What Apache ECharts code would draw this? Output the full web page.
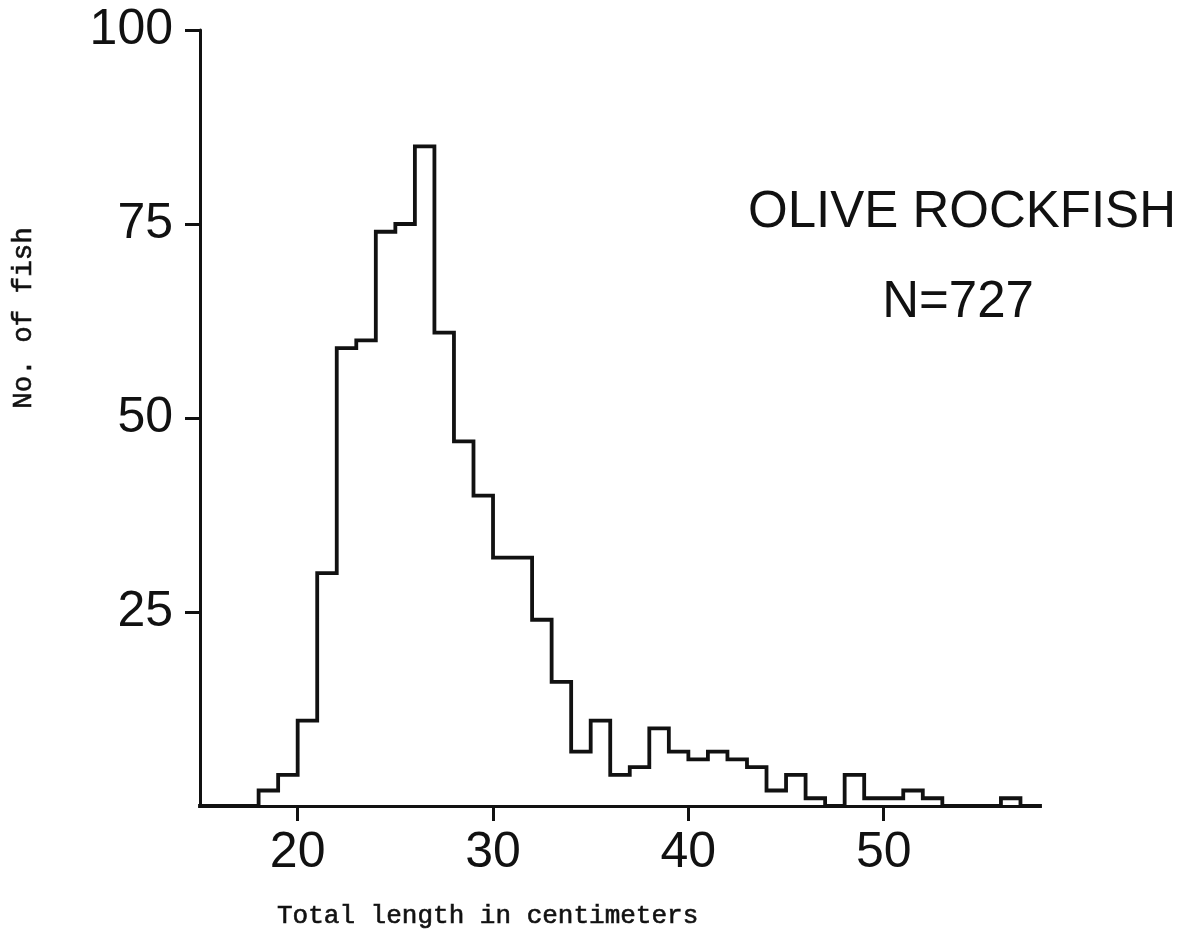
<!DOCTYPE html>
<html><head><meta charset="utf-8">
<script src="https://cdn.jsdelivr.net/npm/echarts@6/dist/echarts.min.js"></script>
<style>html,body{margin:0;padding:0;background:#fff}#chart{width:1191px;height:937px}</style>
</head><body><div id="chart"></div>
<script>
// Histogram bins (lower edge of each 1-cm class) and counts
const lengthCm = [18,19,20,21,22,23,24,25,26,27,28,29,30,31,32,33,34,35,36,37,38,39,40,41,42,43,44,45,46,47,48,49,50,51,52,53,54,55,56];
const fishCount = [2,4,11,30,59,60,74,75,85,61,47,40,32,32,24,16,7,11,4,5,10,7,6,7,6,5,2,4,1,0,4,1,1,2,1,0,0,0,1];
const binWidth = 1;
const xRange = [15, 58];
const yRange = [0, 100];
const xTickValues = [20, 30, 40, 50];
const yTickValues = [25, 50, 75, 100];
const titleText = 'OLIVE ROCKFISH';
const sampleText = 'N=727';
const xAxisName = 'Total length in centimeters';
const yAxisName = 'No. of fish';

const stepData = [[xRange[0], 0]];
lengthCm.forEach((x, i) => stepData.push([x, fishCount[i]]));
stepData.push([lengthCm[lengthCm.length - 1] + binWidth, 0]);
stepData.push([xRange[1], 0]);

const chart = echarts.init(document.getElementById('chart'), null, {renderer: 'canvas'});
const ink = '#111';
const labelFont = 'Liberation Sans, Arial, sans-serif';
const monoFont = '"Liberation Mono", "Courier New", monospace';

chart.setOption({
  animation: false,
  backgroundColor: '#fff',
  grid: {left: 200, right: 151, top: 30, bottom: 131, containLabel: false},
  xAxis: {
    type: 'value', min: xRange[0], max: xRange[1],
    axisLine: {show: true, onZero: false, lineStyle: {color: ink, width: 3}},
    axisTick: {show: true, inside: false, length: 15, customValues: xTickValues, lineStyle: {color: ink, width: 3}},
    axisLabel: {show: true, customValues: xTickValues, margin: 22, color: ink, fontSize: 50, fontFamily: labelFont},
    splitLine: {show: false}
  },
  yAxis: {
    type: 'value', min: yRange[0], max: yRange[1], interval: 25,
    axisLine: {show: true, onZero: false, lineStyle: {color: ink, width: 3}},
    axisTick: {show: true, inside: false, length: 15, customValues: yTickValues, lineStyle: {color: ink, width: 3}},
    axisLabel: {show: true, customValues: yTickValues, margin: 27, color: ink, fontSize: 50, fontFamily: labelFont},
    splitLine: {show: false}
  },
  series: [{
    type: 'line',
    step: 'end',
    data: stepData,
    symbol: 'none',
    lineStyle: {color: ink, width: 3.8, join: 'miter', cap: 'square'},
    silent: true
  }],
  graphic: [
    {type: 'text', x: 962, y: 213, style: {text: titleText, fill: ink, font: '51px ' + labelFont, textAlign: 'center', textVerticalAlign: 'middle'}},
    {type: 'text', x: 958, y: 303, style: {text: sampleText, fill: ink, font: '51px ' + labelFont, textAlign: 'center', textVerticalAlign: 'middle'}},
    {type: 'text', x: 24, y: 318, rotation: Math.PI / 2, style: {text: yAxisName, fill: ink, stroke: ink, lineWidth: 0.6, font: '27.5px ' + monoFont, textAlign: 'center', textVerticalAlign: 'middle'}},
    {type: 'text', x: 277, y: 916, style: {text: xAxisName, fill: ink, stroke: ink, lineWidth: 0.6, font: '26px ' + monoFont, textAlign: 'left', textVerticalAlign: 'middle'}}
  ]
});
</script>
</body></html>
